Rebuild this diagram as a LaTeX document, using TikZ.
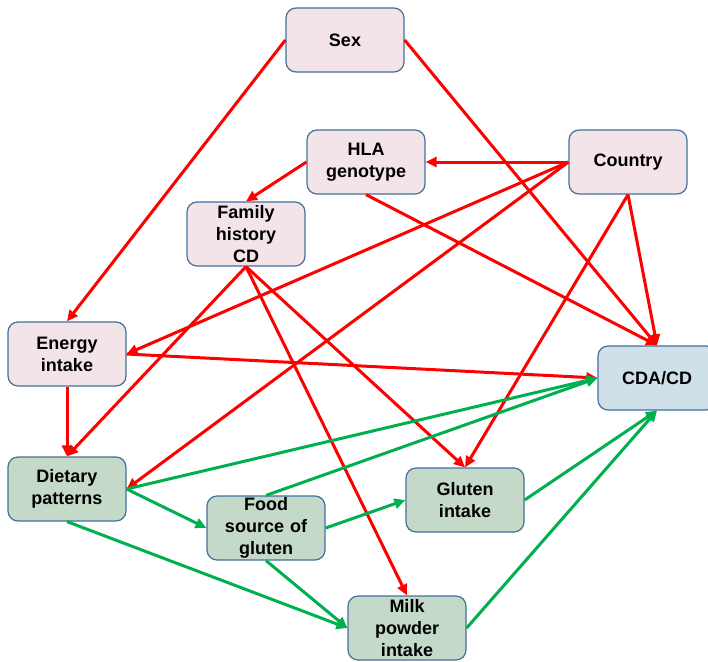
\documentclass[tikz,border=0pt]{standalone}
\usepackage{fontspec}
\setmainfont{Liberation Sans}
\usetikzlibrary{arrows.meta}
\definecolor{boxline}{HTML}{41719C}
\definecolor{riskfill}{HTML}{F3E4E8}
\definecolor{dietfill}{HTML}{C5D9C9}
\definecolor{outfill}{HTML}{D0E0E8}
\definecolor{pathgreen}{HTML}{00B050}
\tikzset{
>={Triangle[length=11pt,width=10pt]},
  factor/.style={
    rectangle,
    rounded corners=10pt,
    % fill=black!10,
    draw=boxline, line width=1.2pt,
    fill=riskfill,
    text width=112pt,
    align=center,
    inner sep=0pt,
    minimum height=64pt,
    minimum width=118pt,
    font=\fontsize{18}{22}\selectfont\bfseries},
  dietbox/.style={
    factor,
    fill=dietfill},
  outbox/.style={
    factor,
    fill=outfill},
  redline/.style={draw=red, line width=3pt, ->},
  greenline/.style={draw=pathgreen, line width=3pt, ->},
}

\begin{document}
\begin{tikzpicture}
[x=1pt, y=-1pt]

\useasboundingbox (0,0) rectangle (708,661);

\node[factor] (sex) at (345,40) {
Sex
};

\node[factor] (hla) at (366,162) {
HLA\\genotype
};

\node[factor] (country) at (628,162) {
Country
};

\node[factor] (famhist) at (246,234) {
Family\\history\\CD
};

\node[factor] (energy) at (67,354) {
Energy\\intake
};

\node[outbox] (cdacd) at (657,378) {
CDA/CD
};

\node[dietbox] (dietpat) at (67,489) {
Dietary\\patterns
};

\node[dietbox] (foodsrc) at (266,528) {
Food\\source of\\gluten
};

\node[dietbox] (gluten) at (465,500) {
Gluten\\intake
};

\node[dietbox] (milk) at (407,628) {
Milk\\powder\\intake
};

% red paths
\draw [redline] (sex.west) -- (energy.north);
\draw [redline] (sex.east) -- (cdacd.north);
\draw [redline] (country.west) -- (hla.east);
\draw [redline] (hla.west) -- (famhist.north);
\draw [redline] (hla.south) -- (cdacd.north);
\draw [redline] (country.west) -- (energy.east);
\draw [redline] (country.west) -- (dietpat.east);
\draw [redline] (country.south) -- (gluten.north);
\draw [redline] (country.south) -- (cdacd.north);
\draw [redline] (famhist.south) -- (dietpat.north);
\draw [redline] (famhist.south) -- (gluten.north);
\draw [redline] (famhist.south) -- (milk.north);
\draw [redline] (energy.east) -- (cdacd.west);
\draw [redline] (energy.south) -- (dietpat.north);

% green paths
\draw [greenline] (dietpat.east) -- (cdacd.west);
\draw [greenline] (dietpat.east) -- (foodsrc.west);
\draw [greenline] (dietpat.south) -- (milk.west);
\draw [greenline] (foodsrc.north) -- (cdacd.west);
\draw [greenline] (foodsrc.east) -- (gluten.west);
\draw [greenline] (foodsrc.south) -- (milk.west);
\draw [greenline] (gluten.east) -- (cdacd.south);
\draw [greenline] (milk.east) -- (cdacd.south);

\end{tikzpicture}
\end{document}
